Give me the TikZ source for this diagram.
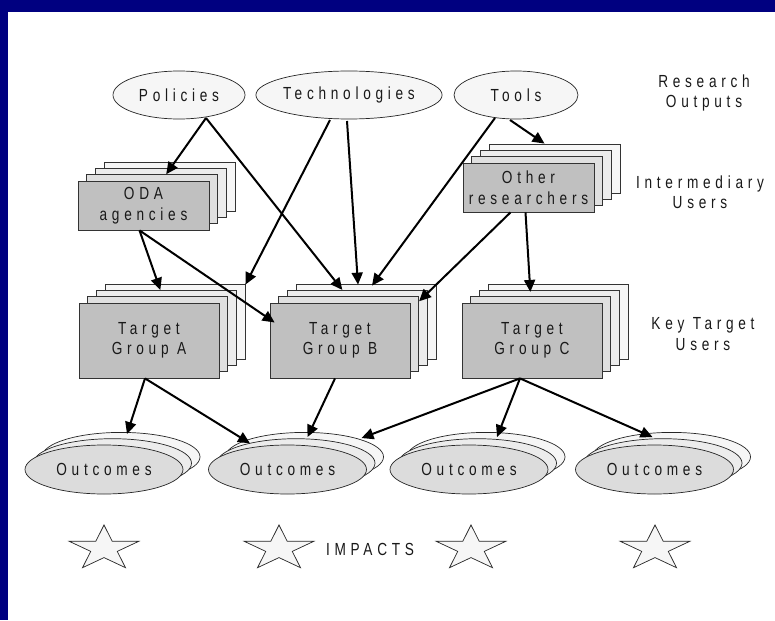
\documentclass[tikz,border=0pt]{standalone}
\usepackage{fontspec}
\setmainfont{Liberation Sans}
\newfontfamily\lsf[LetterSpace=27,FakeStretch=0.78]{Liberation Sans}
\usetikzlibrary{arrows.meta,calc,shapes.geometric}
\definecolor{navy}{RGB}{0,0,128}
\definecolor{rfront}{RGB}{192,192,192}
\definecolor{rb1}{RGB}{224,224,224}
\definecolor{rb2}{RGB}{236,236,236}
\definecolor{rb3}{RGB}{246,246,246}
\definecolor{efront}{RGB}{220,220,220}
\definecolor{eb1}{RGB}{236,236,236}
\definecolor{eb2}{RGB}{246,246,246}
\definecolor{topfill}{RGB}{246,246,246}
\tikzset{
  txt/.style={font=\lsf\fontsize{17.5}{20.5}\selectfont, align=center, text=black!90},
  rbox/.style={draw=black!80, line width=0.8pt, rectangle, inner sep=0pt, txt},
  ebox/.style={draw=black!85, line width=0.7pt, ellipse, inner sep=0pt, txt},
  arr/.style={line width=2pt, -{Triangle[length=12pt,width=11pt]}},
  starsty/.style={draw=black!85, line width=0.7pt, fill=topfill, line join=miter},
}
\newcommand\rstack[6]{%
  \node[rbox, fill=rb3, minimum width=#4, minimum height=#5] (#13) at ($(#2,#3)+3*(8.67,-6.33)$) {};
  \node[rbox, fill=rb2, minimum width=#4, minimum height=#5] (#12) at ($(#2,#3)+2*(8.67,-6.33)$) {};
  \node[rbox, fill=rb1, minimum width=#4, minimum height=#5] (#11) at ($(#2,#3)+1*(8.67,-6.33)$) {};
  \node[rbox, fill=rfront, minimum width=#4, minimum height=#5] (#1) at (#2,#3) {#6};}
\newcommand\estack[4]{%
  \node[ebox, fill=eb2, minimum width=158, minimum height=49] (#12) at ($(#2,#3)+2*(8.5,-6.3)$) {};
  \node[ebox, fill=eb1, minimum width=158, minimum height=49] (#11) at ($(#2,#3)+1*(8.5,-6.3)$) {};
  \node[ebox, fill=efront, minimum width=158, minimum height=49] (#1) at (#2,#3) {#4};}
\begin{document}
\begin{tikzpicture}[x=1pt,y=-1pt]
\useasboundingbox (0,0) rectangle (775,620);
\fill[white] (0,0) rectangle (775,620);
\fill[navy] (0,0) rectangle (775,12);
\fill[navy] (0,0) rectangle (8,620);

% research outputs
\node[ebox, fill=topfill, minimum width=132, minimum height=48] (pol) at (179,95) {Policies};
\node[ebox, fill=topfill, minimum width=158, minimum height=48] (tech) at (349,95) {Technologies};
\node[ebox, fill=topfill, minimum width=124, minimum height=48] (tools) at (516,95) {Tools};

% intermediary
\rstack{oda}{143.5}{205.5}{131}{49}{ODA\\agencies}
\rstack{oth}{528.5}{187.5}{131}{49}{Other\\researchers}

% target groups
\rstack{ta}{149}{340.5}{140}{75}{Target\\Group A}
\rstack{tb}{340}{340.5}{140}{75}{Target\\Group B}
\rstack{tc}{532}{340.5}{140}{75}{Target\\Group C}

% outcomes
\estack{oa}{104}{469.5}{Outcomes}
\estack{ob}{287.5}{469.5}{Outcomes}
\estack{oc}{469}{469.5}{Outcomes}
\estack{od}{654.5}{469.5}{Outcomes}

% right labels
\node[txt] (lro) at (704,93) {Research\\Outputs};
\node[txt] (liu) at (700,192) {Intermediary\\Users};
\node[txt] (lkt) at (703,334) {Key Target\\Users};

% stars
\foreach \cx [count=\n] in {104,279,471,655}{
  \draw[starsty] \foreach \a/\r [count=\i] in {90/23.6,126/9,162/23.6,198/9,234/23.6,270/9,306/23.6,342/9,18/23.6,54/9}{
    \ifnum\i=1 ({\cx+1.55*\r*cos(\a)},{548.6-\r*sin(\a)}) \else -- ({\cx+1.55*\r*cos(\a)},{548.6-\r*sin(\a)}) \fi } -- cycle;
}
\node[txt] (imp) at (370,549) {IMPACTS};

% arrows
\draw[arr] ($(pol)+(27,23)$) -- ($(oda1.north)+(14,0)$);
\draw[arr] ($(pol)+(27,23)$) -- ($(tb2.north)+(-15,0)$);
\draw[arr] ($(tech)+(-19,25)$) -- ($(ta3.north east)+(0,1)$);
\draw[arr] ($(tech)+(-2,26)$) -- ($(tb3.north)+(-8,1)$);
\draw[arr] ($(tools)+(-21,23)$) -- ($(tb3.north)+(6,2)$);
\draw[arr] ($(tools)+(-6,25)$) -- ($(oth3.north)+(-10,0)$);
\draw[arr] ($(oda.south)+(-4,0)$) -- ($(ta2.north)+(-6,0)$);
\draw[arr] ($(oda.south)+(-4,0)$) -- ($(tb.west)+(5,-18)$);
\draw[arr] ($(oth.south)+(-18,0)$) -- ($(tb1.north east)+(0,5)$);
\draw[arr] ($(oth.south)+(-3,0)$) -- ($(tc2.north)+(-19,2)$);
\draw[arr] ($(ta.south)+(-4,0)$) -- ($(oa2.north)+(6,2)$);
\draw[arr] ($(ta.south)+(-4,0)$) -- ($(ob1.north)+(-46,5)$);
\draw[arr] ($(tb.south)+(-5,0)$) -- ($(ob2.north)+(3,5)$);
\draw[arr] ($(tc.south)+(-12,0)$) -- ($(ob2.north)+(57,6)$);
\draw[arr] ($(tc.south)+(-12,0)$) -- ($(oc2.north)+(11,5)$);
\draw[arr] ($(tc.south)+(-12,0)$) -- ($(od2.north)+(-19,5)$);
\end{tikzpicture}
\end{document}
